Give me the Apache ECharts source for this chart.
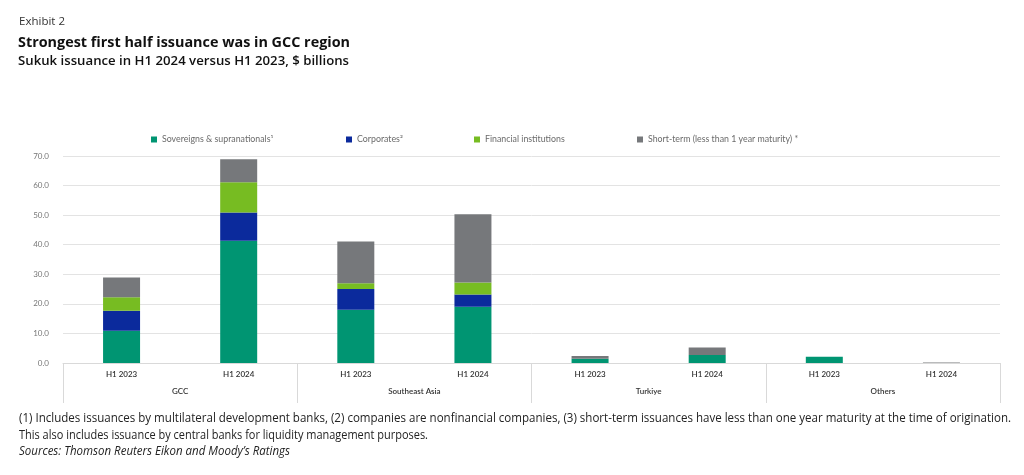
<!DOCTYPE html>
<html>
<head>
<meta charset="utf-8">
<script src="https://cdn.jsdelivr.net/npm/echarts@6/dist/echarts.min.js"></script>
<style>html,body{margin:0;padding:0;background:#fff}#c{width:1024px;height:475px}</style>
</head>
<body>
<div id="c"></div>
<script>
// ---- data ----
const categories = ['H1 2023','H1 2024','H1 2023','H1 2024','H1 2023','H1 2024','H1 2023','H1 2024'];
const groups = ['GCC','Southeast Asia','Turkiye','Others'];
const sovereigns = [10.9, 41.3, 18.0, 19.0, 1.4, 2.7, 2.1, 0];
const corporates = [6.8, 9.6, 7.0, 4.2, 0, 0, 0, 0];
const financial = [4.5, 10.2, 2.0, 4.0, 0, 0, 0, 0];
const shortTerm = [6.7, 7.8, 14.1, 23.1, 1.0, 2.5, 0, 0.2];
const seriesNames = ['Sovereigns & supranationals\u00b9','Corporates\u00b2','Financial institutions','Short-term (less than 1 year maturity) *'];
const yTicks = {min: 0, max: 70, interval: 10};
const exhibit = 'Exhibit 2';
const title = 'Strongest first half issuance was in GCC region';
const subtitle = 'Sukuk issuance in H1 2024 versus H1 2023, $ billions';
const notes = [
  '(1) Includes issuances by multilateral development banks, (2) companies are nonfinancial companies, (3) short-term issuances have less than one year maturity at the time of origination.',
  'This also includes issuance by central banks for liquidity management purposes.'
];
const source = 'Sources: Thomson Reuters Eikon and Moody\u2019s Ratings';

// ---- helpers ----
const mctx = document.createElement('canvas').getContext('2d');
function fit(text, font, target){ mctx.font = font; const w = mctx.measureText(text).width; return w > 0 ? target / w : 1; }

const colors = ['#009572','#0b2a9c','#77bc22','#76787b'];
const chartFont = 'Lato, "Open Sans", sans-serif';

function txt(text, x, y, font, fill, target){
  return { type:'text', x:x, y:y, scaleX: fit(text, font, target), scaleY: 1,
    style:{ text:text, font:font, fill:fill, verticalAlign:'middle', align:'left' }, silent:true };
}

const fTitle = 'bold 15px "Open Sans", sans-serif';
const fSub = '600 12.5px "Open Sans", sans-serif';
const fEx = '11px "Open Sans", sans-serif';
const fNote = '12px "Open Sans", sans-serif';
const fSrc = 'italic 12px "Open Sans", sans-serif';

const legendX = [151, 346, 474, 637];
const legends = seriesNames.map((n, i) => ({
  data: [n], left: legendX[i], top: 134.5, padding: 0, itemWidth: 6, itemHeight: 6, icon: 'rect',
  itemGap: 0, selectedMode: false,
  textStyle: { fontSize: 8.8, color: '#6a6a6a', fontFamily: chartFont, lineHeight: 10 }
}));

const dataSets = [sovereigns, corporates, financial, shortTerm];

const option = {
  animation: false,
  backgroundColor: '#fff',
  legend: legends,
  grid: { left: 63, right: 24, top: 156, bottom: 112, containLabel: false },
  xAxis: [
    { type: 'category', data: categories, position: 'bottom',
      axisLine: { show: true, lineStyle: { color: '#d9d9d9', width: 1 } },
      axisTick: { show: false },
      axisLabel: { interval: 0, fontSize: 8, color: '#333', fontWeight: 600, margin: 7, fontFamily: chartFont } },
    { type: 'category', data: groups, position: 'bottom',
      axisLine: { show: false },
      axisTick: { show: true, length: 40, lineStyle: { color: '#d9d9d9', width: 1 } },
      axisLabel: { interval: 0, fontSize: 8, color: '#333', fontWeight: 600, margin: 24, fontFamily: chartFont } }
  ],
  yAxis: { type: 'value', min: yTicks.min, max: yTicks.max, interval: yTicks.interval,
    axisLine: { show: false }, axisTick: { show: false },
    splitLine: { lineStyle: { color: '#e3e3e3', width: 1 } },
    axisLabel: { fontSize: 8, color: '#777', margin: 14, fontFamily: chartFont, formatter: v => v.toFixed(1) } },
  series: dataSets.map((d, i) => ({
    name: seriesNames[i], type: 'bar', stack: 'total', xAxisIndex: 0, data: d,
    barWidth: 37, itemStyle: { color: colors[i] }
  })),
  graphic: [
    txt(exhibit, 19, 22, fEx, '#333', 46),
    txt(title, 18, 43, fTitle, '#111', 332),
    txt(subtitle, 18, 61, fSub, '#111', 331),
    txt(notes[0], 19, 419, fNote, '#222', 992),
    txt(notes[1], 19, 436, fNote, '#222', 409),
    txt(source, 19, 452, fSrc, '#222', 271)
  ]
};

const chart = echarts.init(document.getElementById('c'), null, { renderer: 'canvas' });
chart.setOption(option);
</script>
</body>
</html>
